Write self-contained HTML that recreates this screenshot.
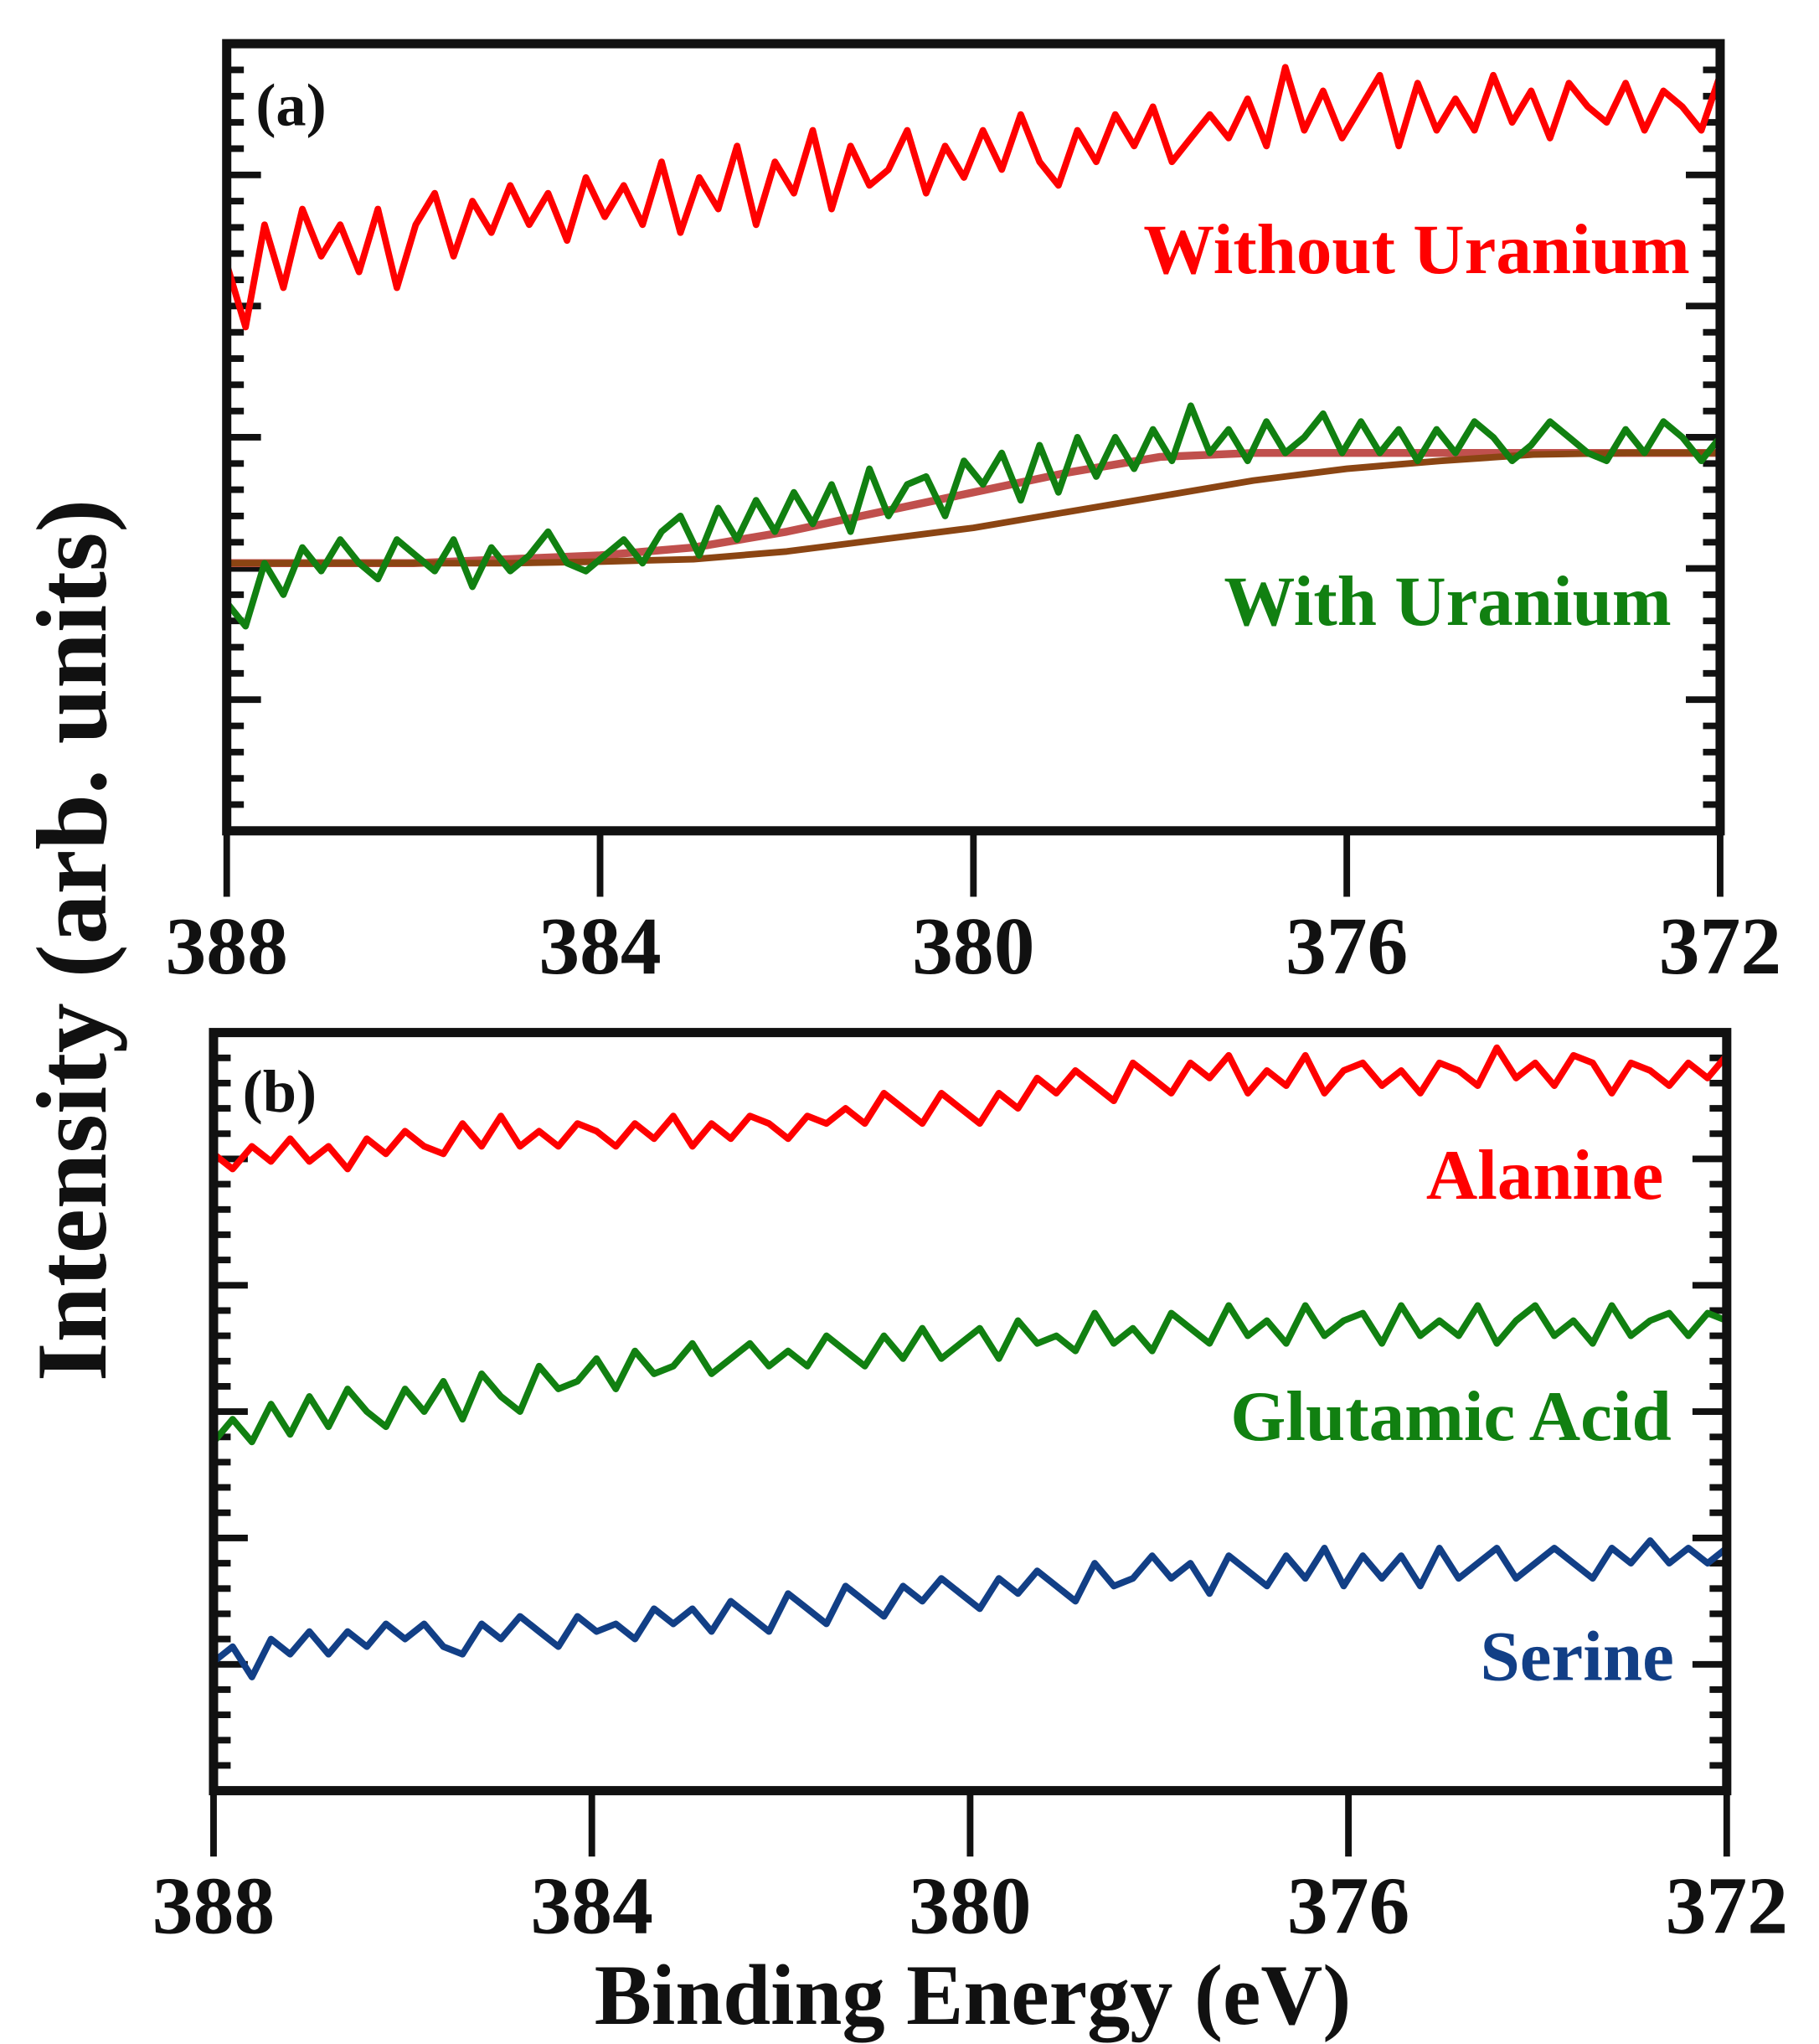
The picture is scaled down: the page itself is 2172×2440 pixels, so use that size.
<!DOCTYPE html>
<html><head><meta charset="utf-8"><style>
html,body{margin:0;padding:0;background:#fff}
svg{display:block}
text{font-family:"Liberation Serif",serif;font-weight:bold}
</style></head><body>
<svg id="chart" width="2172" height="2440" viewBox="0 0 1380 1550" xmlns="http://www.w3.org/2000/svg">
<rect width="1380" height="1550" fill="#fff"/>
<g id="panelA"></g>
<g id="panelB"></g>
<text transform="translate(80,713) rotate(-90)" text-anchor="middle" font-size="76" fill="#111">Intensity (arb. units)</text>
<text x="738" y="1535" text-anchor="middle" font-size="65" fill="#111">Binding Energy (eV)</text>
</svg>
<script>
const xTicks = [388, 384, 380, 376, 372];
const redA = [72,64,77,69,79,73,77,71,79,69,77,81,73,80,76,82,77,81,75,83,78,82,77,85,76,83,79,87,77,85,81,89,79,87,82,84,89,81,87,83,89,84,91,85,82,89,85,91,87,92,85,88,91,88,93,87,97,89,94,88,92,96,87,95,89,93,89,96,90,94,88,95,92,90,95,89,94,92,89,96];
const greenA = [29,26,34,30,36,33,37,34,32,37,35,33,37,31,36,33,35,38,34,33,35,37,34,38,40,35,41,37,42,38,43,39,44,38,46,40,44,45,40,47,44,48,42,49,43,50,45,50,46,51,47,54,48,51,47,52,48,50,53,48,52,48,51,47,51,48,52,50,47,49,52,50,48,47,51,48,52,50,47,50];
const bgEnergies = [388,387,386,385,384,383,382,381,380,379,378,377,376,375,374,373,372];
const brownA = [34,34,34,34,34.2,34.5,35.5,37,38.5,40.5,42.5,44.5,46,47,47.8,48,48];
const envA = [34,34,34,34.5,35,36,38,40.5,43,45.5,47.5,48,48,48,48,48,48];
const alanine = [84,82,85,83,86,83,85,82,86,84,87,85,84,88,85,89,85,87,85,88,87,85,88,86,89,85,88,86,89,88,86,89,88,90,88,92,90,88,92,90,88,92,90,94,92,95,93,91,96,94,92,96,94,97,92,95,93,97,92,95,96,93,95,92,96,95,93,98,94,96,93,97,96,92,96,95,93,96,94,97];
const glutamic = [46,49,46,51,47,52,48,53,50,48,53,50,54,49,55,52,50,56,53,54,57,53,58,55,56,59,55,57,59,56,58,56,60,58,56,60,57,61,57,59,61,57,62,59,60,58,63,59,61,58,63,61,59,64,60,62,59,64,60,62,63,59,64,60,62,60,64,59,62,64,60,62,59,64,60,62,63,60,63,62];
const serine = [17,19,15,20,18,21,18,21,19,22,20,22,19,18,22,20,23,21,19,23,21,22,20,24,22,24,21,25,23,21,26,24,22,27,25,23,27,25,28,26,24,28,26,29,27,25,30,27,28,31,28,30,26,31,29,27,31,28,32,27,31,28,31,27,32,28,30,32,28,30,32,30,28,32,30,33,30,32,30,32];

const NS='http://www.w3.org/2000/svg';
function mk(tag, attrs, parent){const e=document.createElementNS(NS,tag);for(const k in attrs)e.setAttribute(k,attrs[k]);parent.appendChild(e);return e;}

function panel(g, L, R, T, B, majorYs, label, labelY, series){
  const xs = v => L + (388 - v) / 16 * (R - L);
  const ys = v => B - v / 100 * (B - T);
  const sp = (B - T) / (majorYs * 5);
  for(let i=1;i<majorYs*5;i++){
    const y = B - i*sp; const len = (i%5===0)?26:13;
    const t1 = mk('line',{x1:L,x2:L+len,y1:y,y2:y,stroke:'#111','stroke-width':5},g);
    
    
    const t2 = mk('line',{x1:R,x2:R-len,y1:y,y2:y,stroke:'#111','stroke-width':5},g);
    
    
  }
  xTicks.forEach(v=>{
    const x=xs(v);
    const t=mk('line',{x1:x,x2:x,y1:B,y2:B+50,stroke:'#111','stroke-width':5},g);
    
    
    const tl=mk('text',{x:x,y:B+108,'text-anchor':'middle','font-size':62,fill:'#111'},g);
    tl.textContent=v;
    
    
  });
  series.forEach(s=>{
    const en = s.en || s.vals.map((_,i)=>388 - i*16/(s.vals.length-1));
    const d = s.vals.map((v,i)=>(i?'L':'M')+xs(en[i]).toFixed(1)+','+ys(v).toFixed(1)).join(' ');
    const p=mk('path',{d:d,fill:'none',stroke:s.color,'stroke-width':s.w,'stroke-linejoin':'round'},g);
    
    
    if(s.label){
      const t=mk('text',{x:s.lx,y:s.ly,'text-anchor':'end','font-size':54,fill:s.color},g);
      t.textContent=s.label;
      
      
    }
  });
  const fr=mk('rect',{x:L,y:T,width:R-L,height:B-T,fill:'none',stroke:'#111','stroke-width':7},g);
  
  
  const pl=mk('text',{x:L+22,y:labelY,'font-size':46,fill:'#111'},g);
  pl.textContent=label;
  
  
}

panel(document.getElementById('panelA'),172,1305,33,630,6,'(a)',95,[
  {name:'background-fit-envelope',vals:envA,en:bgEnergies,color:'#c0504d',w:6},
  {name:'background-fit',vals:brownA,en:bgEnergies,color:'#8b4513',w:5},
  {name:'without-uranium-line',vals:redA,color:'#ff0000',w:5,label:'Without Uranium',lx:1282,ly:207},
  {name:'with-uranium-line',vals:greenA,color:'#118011',w:5,label:'With Uranium',lx:1268,ly:474}
]);
panel(document.getElementById('panelB'),162,1310,783,1358,6,'(b)',843,[
  {name:'alanine-line',vals:alanine,color:'#ff0000',w:5,label:'Alanine',lx:1262,ly:909},
  {name:'glutamic-acid-line',vals:glutamic,color:'#118011',w:5,label:'Glutamic Acid',lx:1268,ly:1092},
  {name:'serine-line',vals:serine,color:'#123f86',w:5,label:'Serine',lx:1270,ly:1274}
]);
</script>
</body></html>
